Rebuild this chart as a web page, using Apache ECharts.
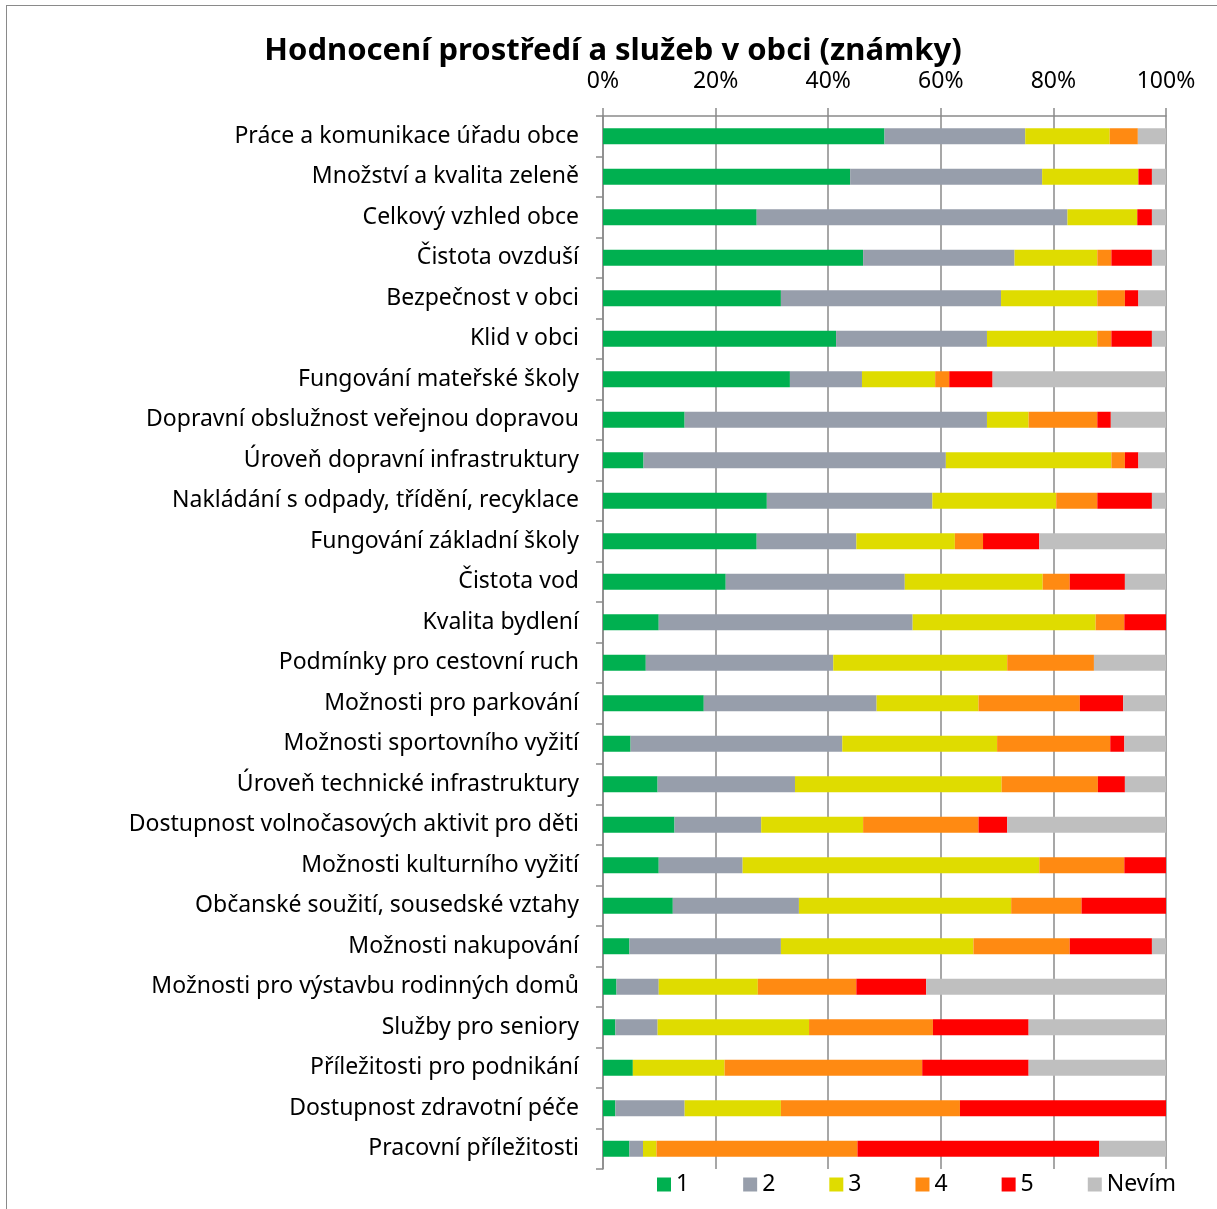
<!DOCTYPE html>
<html>
<head>
<meta charset="utf-8">
<script src="https://cdn.jsdelivr.net/npm/echarts@6/dist/echarts.min.js"></script>
<style>
html,body{margin:0;padding:0;background:#fff;}
#frame{position:absolute;left:6px;top:5px;width:1220px;height:1220px;border-left:1.5px solid #8a8a8a;border-top:1.5px solid #8a8a8a;box-sizing:border-box;}
#chart{position:absolute;left:0;top:0;width:1217px;height:1209px;}
</style>
</head>
<body>
<div id="frame"></div>
<div id="chart"></div>
<script>
const categories = [
'Práce a komunikace úřadu obce',
'Množství a kvalita zeleně',
'Celkový vzhled obce',
'Čistota ovzduší',
'Bezpečnost v obci',
'Klid v obci',
'Fungování mateřské školy',
'Dopravní obslužnost veřejnou dopravou',
'Úroveň dopravní infrastruktury',
'Nakládání s odpady, třídění, recyklace',
'Fungování základní školy',
'Čistota vod',
'Kvalita bydlení',
'Podmínky pro cestovní ruch',
'Možnosti pro parkování',
'Možnosti sportovního vyžití',
'Úroveň technické infrastruktury',
'Dostupnost volnočasových aktivit pro děti',
'Možnosti kulturního vyžití',
'Občanské soužití, sousedské vztahy',
'Možnosti nakupování',
'Možnosti pro výstavbu rodinných domů',
'Služby pro seniory',
'Příležitosti pro podnikání',
'Dostupnost zdravotní péče',
'Pracovní příležitosti'
];
const seriesNames = ['1','2','3','4','5','Nevím'];
const grade1 = [50,43.9,27.3,46.2,31.6,41.4,33.2,14.5,7.2,29.1,27.3,21.8,9.9,7.6,17.9,4.9,9.7,12.7,9.9,12.4,4.7,2.4,2.2,5.3,2.2,4.7];
const grade2 = [25,34.1,55.2,26.9,39.1,26.8,12.8,53.7,53.7,29.4,17.7,31.8,45.1,33.3,30.7,37.6,24.4,15.4,14.9,22.4,26.9,7.5,7.5,0,12.3,2.4];
const grade3 = [15,17.1,12.4,14.7,17.1,19.6,13.0,7.4,29.4,22.0,17.5,24.5,32.5,30.9,18.1,27.5,36.7,18.1,52.7,37.7,34.2,17.6,26.9,16.3,17.1,2.4];
const grade4 = [5,0,0,2.5,4.9,2.5,2.5,12.2,2.4,7.3,5.0,4.8,5.1,15.4,18.0,20.1,17.1,20.5,15.1,12.5,17.1,17.5,22.0,35.1,31.8,35.7];
const grade5 = [0,2.4,2.6,7.2,2.4,7.2,7.7,2.4,2.4,9.7,10.0,9.8,7.4,0,7.7,2.5,4.8,5.1,7.4,15.0,14.6,12.4,17.0,18.9,36.6,42.9];
const nevim  = [5,2.5,2.5,2.5,4.9,2.5,30.8,9.8,4.9,2.5,22.5,7.3,0,12.8,7.6,7.4,7.3,28.2,0,0,2.5,42.6,24.4,24.4,0,11.9];
const xTicks = [0,20,40,60,80,100];
const colors = ['#00B050','#979EAB','#DFDC00','#FF8A12','#FF0000','#BFBFBF'];

const allData = [grade1,grade2,grade3,grade4,grade5,nevim];
const FONT = '"Noto Sans", "DejaVu Sans", sans-serif';

const chart = echarts.init(document.getElementById('chart'));
chart.setOption({
  animation:false,
  color: colors,
  textStyle:{fontFamily:FONT},
  title:{
    text:'Hodnocení prostředí a služeb v obci (známky)',
    left:608, top:31, textAlign:'center',
    textStyle:{fontFamily:FONT,fontSize:31,fontWeight:'bold',color:'#000'}
  },
  legend:{
    data: seriesNames,
    left:652, top:1168,
    itemWidth:14, itemHeight:14, itemGap:54,
    icon:'rect',
    textStyle:{fontFamily:FONT,fontSize:23,color:'#000'}
  },
  grid:{left:603, right:51, top:116, bottom:40, containLabel:false},
  xAxis:{
    type:'value', position:'top', min:xTicks[0], max:xTicks[xTicks.length-1], interval:20,
    axisLine:{show:true, lineStyle:{color:'#8a8a8a', width:1.5}},
    axisTick:{show:true, length:8, lineStyle:{color:'#8a8a8a', width:1.5}},
    axisLabel:{formatter:'{value}%', fontFamily:FONT, fontSize:23, color:'#000', margin:23},
    splitLine:{show:true, lineStyle:{color:'#8a8a8a', width:1.5}}
  },
  yAxis:{
    type:'category', data:categories, inverse:true,
    axisLine:{show:true, lineStyle:{color:'#8a8a8a', width:1.5}},
    axisTick:{show:true, length:7, lineStyle:{color:'#8a8a8a', width:1.5}},
    axisLabel:{fontFamily:FONT, fontSize:23, color:'#000', margin:24}
  },
  series: seriesNames.map((n,i)=>({
    name:n, type:'bar', stack:'total', barWidth:16,
    data: allData[i],
    itemStyle:{color:colors[i]}
  }))
});
</script>
</body>
</html>
